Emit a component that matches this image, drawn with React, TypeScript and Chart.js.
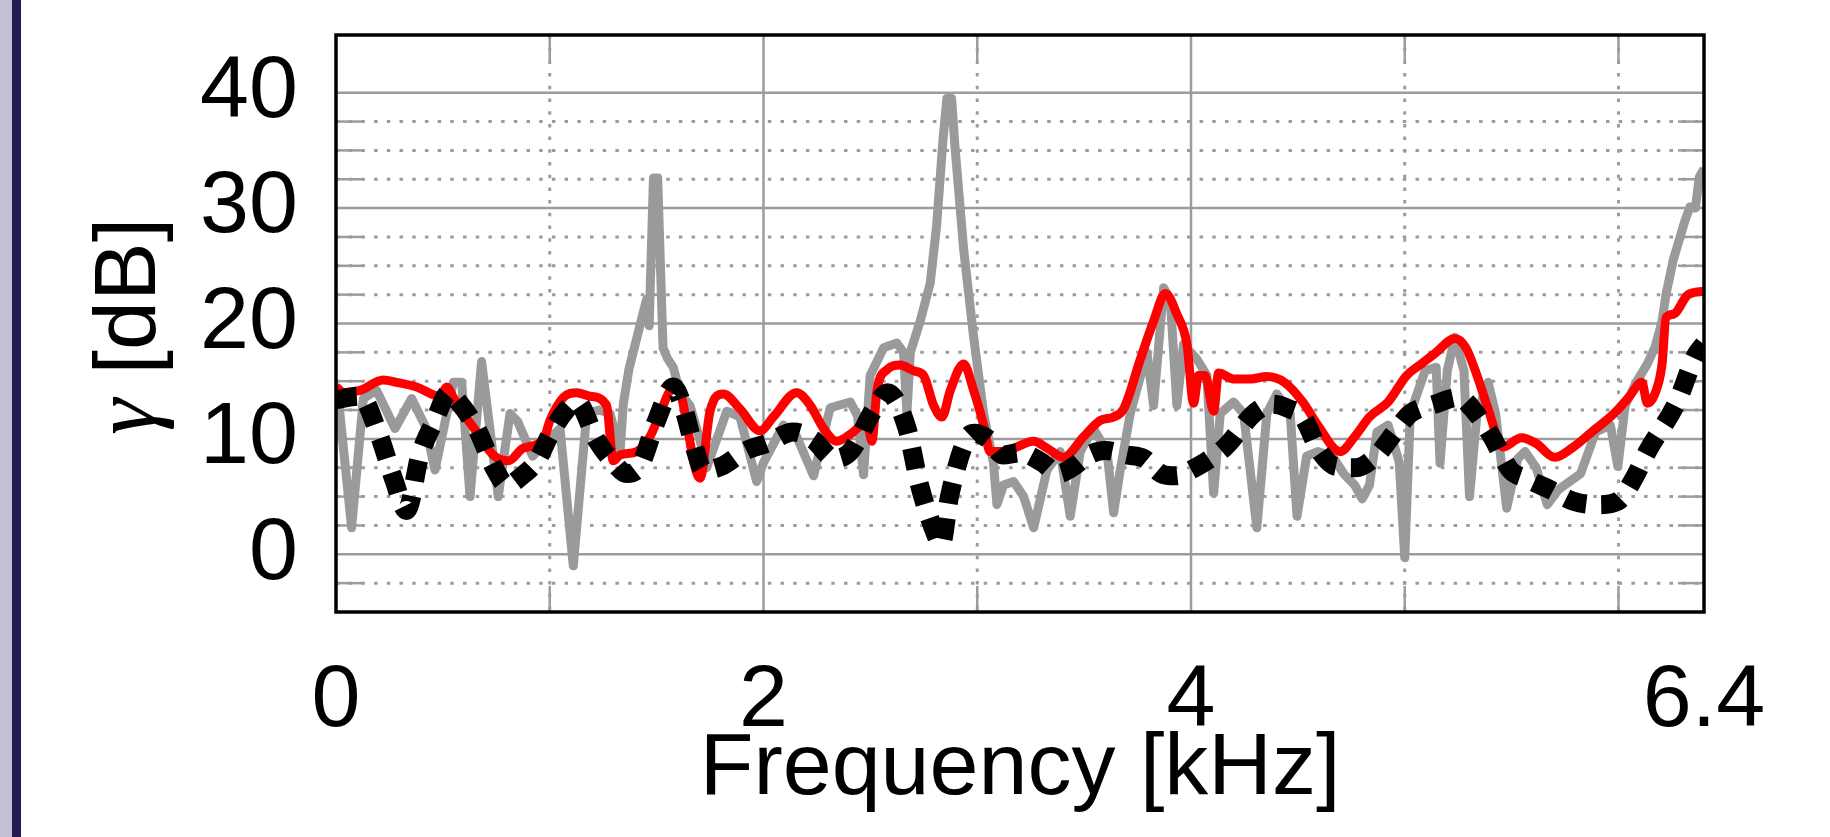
import React, { useEffect, useRef } from 'react';
import { Chart, registerables } from 'chart.js';

Chart.register(...registerables);

// ---- data (frequency in kHz, gamma in dB) ----
const grayFreq = [0.0, 0.011, 0.073, 0.128, 0.19, 0.276, 0.354, 0.42, 0.463, 0.549, 0.588, 0.627, 0.681, 0.759, 0.814, 0.85, 0.92, 0.97, 1.048, 1.11, 1.173, 1.23, 1.282, 1.329, 1.344, 1.37, 1.453, 1.465, 1.485, 1.505, 1.53, 1.55, 1.578, 1.609, 1.656, 1.703, 1.734, 1.828, 1.89, 1.968, 1.999, 2.093, 2.155, 2.234, 2.312, 2.406, 2.44, 2.468, 2.499, 2.562, 2.624, 2.655, 2.671, 2.687, 2.733, 2.78, 2.81, 2.84, 2.858, 2.88, 2.895, 2.936, 2.983, 3.03, 3.076, 3.092, 3.123, 3.17, 3.217, 3.264, 3.326, 3.388, 3.435, 3.482, 3.544, 3.607, 3.638, 3.669, 3.716, 3.794, 3.825, 3.872, 3.903, 3.934, 3.965, 4.028, 4.074, 4.106, 4.137, 4.199, 4.246, 4.308, 4.355, 4.402, 4.464, 4.496, 4.541, 4.593, 4.662, 4.714, 4.766, 4.801, 4.835, 4.87, 4.922, 4.974, 5.0, 5.026, 5.095, 5.147, 5.165, 5.199, 5.234, 5.277, 5.303, 5.338, 5.39, 5.425, 5.477, 5.529, 5.563, 5.615, 5.667, 5.719, 5.771, 5.823, 5.893, 5.962, 5.997, 6.031, 6.083, 6.135, 6.17, 6.204, 6.222, 6.256, 6.309, 6.334, 6.36, 6.378, 6.4];
const grayGamma = [13.3, 13.5, 2.3, 13.5, 14.2, 10.9, 13.5, 11.0, 7.3, 14.9, 14.9, 5.0, 16.7, 5.0, 12.2, 11.5, 8.5, 9.5, 10.9, -1.0, 12.2, 12.5, 12.2, 8.9, 13.0, 16.0, 22.1, 19.8, 32.6, 32.6, 17.9, 17.0, 16.2, 14.0, 12.9, 9.9, 7.5, 12.4, 11.9, 6.3, 7.9, 11.2, 10.2, 6.8, 12.7, 13.2, 12.0, 6.9, 15.5, 17.9, 18.3, 17.5, 12.2, 17.5, 20.2, 23.5, 28.5, 36.0, 39.5, 39.5, 35.5, 26.5, 18.8, 12.2, 7.9, 4.3, 6.0, 6.3, 5.0, 2.3, 7.3, 8.9, 3.3, 8.9, 10.9, 8.9, 3.6, 7.3, 12.2, 17.5, 12.9, 23.1, 22.1, 12.9, 18.2, 16.9, 15.5, 5.3, 12.2, 13.2, 12.2, 2.3, 12.2, 13.9, 12.2, 3.3, 8.5, 8.9, 8.5, 7.0, 6.0, 4.8, 6.0, 10.6, 11.2, 8.0, -0.3, 12.2, 15.9, 16.2, 7.9, 15.9, 18.8, 15.9, 5.0, 12.2, 14.9, 12.2, 4.0, 8.3, 8.9, 7.5, 4.3, 5.6, 6.3, 7.0, 10.6, 11.2, 7.6, 12.9, 14.9, 16.5, 17.9, 20.2, 22.5, 25.5, 28.8, 30.1, 30.0, 32.7, 33.4];

const redFreq = [0.0, 0.04, 0.112, 0.221, 0.284, 0.377, 0.487, 0.518, 0.549, 0.596, 0.658, 0.736, 0.806, 0.876, 0.97, 1.001, 1.064, 1.126, 1.188, 1.266, 1.297, 1.329, 1.407, 1.469, 1.516, 1.563, 1.594, 1.703, 1.75, 1.812, 1.89, 1.984, 2.046, 2.155, 2.219, 2.281, 2.343, 2.406, 2.468, 2.49, 2.507, 2.531, 2.578, 2.64, 2.702, 2.749, 2.796, 2.835, 2.874, 2.936, 2.983, 3.03, 3.06, 3.108, 3.17, 3.264, 3.326, 3.404, 3.498, 3.576, 3.638, 3.685, 3.763, 3.825, 3.88, 3.934, 3.981, 4.012, 4.035, 4.066, 4.106, 4.129, 4.199, 4.28, 4.355, 4.437, 4.523, 4.593, 4.697, 4.766, 4.835, 4.922, 5.009, 5.078, 5.147, 5.234, 5.286, 5.338, 5.39, 5.459, 5.546, 5.615, 5.702, 5.789, 5.875, 5.979, 6.048, 6.109, 6.135, 6.17, 6.204, 6.222, 6.256, 6.326, 6.4];
const redGamma = [14.5, 14.0, 14.2, 15.1, 14.9, 14.5, 13.7, 14.5, 13.6, 12.2, 10.6, 8.6, 8.1, 9.2, 9.9, 11.6, 13.6, 14.0, 13.7, 12.9, 8.1, 8.6, 8.9, 10.2, 12.2, 14.2, 14.5, 6.6, 12.4, 13.9, 12.6, 10.7, 11.9, 14.0, 12.9, 10.9, 9.8, 10.4, 11.2, 11.0, 9.8, 14.2, 16.0, 16.4, 15.9, 15.5, 12.9, 11.9, 14.2, 16.5, 14.2, 11.2, 8.9, 8.9, 9.2, 9.8, 9.2, 8.4, 10.2, 11.6, 11.9, 12.6, 16.9, 20.2, 22.6, 20.8, 18.2, 13.1, 15.5, 15.5, 12.4, 15.7, 15.2, 15.2, 15.4, 14.9, 13.2, 11.2, 8.9, 10.2, 11.9, 13.2, 15.5, 16.5, 17.5, 18.7, 17.9, 15.5, 12.6, 9.3, 10.1, 9.6, 8.4, 9.3, 10.6, 12.2, 13.6, 14.9, 13.1, 13.9, 16.5, 20.5, 20.8, 22.5, 22.8];

const blackFreq = [0.0, 0.112, 0.2, 0.27, 0.33, 0.393, 0.46, 0.53, 0.56, 0.658, 0.74, 0.8, 0.87, 0.94, 1.0, 1.064, 1.126, 1.219, 1.297, 1.36, 1.42, 1.5, 1.578, 1.62, 1.672, 1.72, 1.8, 1.92, 2.015, 2.14, 2.234, 2.33, 2.406, 2.515, 2.58, 2.67, 2.73, 2.81, 2.83, 2.87, 2.95, 2.99, 3.05, 3.12, 3.2, 3.3, 3.38, 3.45, 3.52, 3.6, 3.7, 3.78, 3.86, 3.93, 4.0, 4.16, 4.3, 4.38, 4.46, 4.523, 4.6, 4.679, 4.77, 4.87, 4.95, 5.026, 5.14, 5.251, 5.33, 5.407, 5.494, 5.563, 5.68, 5.789, 5.9, 5.997, 6.07, 6.135, 6.274, 6.36, 6.4];
const blackGamma = [13.4, 13.7, 10.4, 6.5, 3.8, 8.6, 11.5, 14.0, 13.5, 10.9, 7.5, 6.0, 6.8, 8.1, 10.3, 12.2, 13.2, 9.9, 8.0, 7.0, 7.6, 11.6, 14.5, 13.0, 9.6, 7.3, 7.6, 9.0, 9.6, 10.6, 9.9, 8.3, 8.9, 12.5, 14.0, 11.0, 6.0, 1.5, 0.8, 5.0, 10.0, 10.5, 10.0, 8.6, 8.8, 8.0, 7.0, 7.6, 8.6, 9.0, 8.6, 8.3, 7.0, 6.8, 7.3, 9.3, 12.3, 13.0, 12.6, 11.9, 9.0, 7.6, 7.5, 8.6, 10.5, 12.2, 13.0, 13.6, 12.3, 10.2, 7.3, 6.6, 5.6, 4.6, 4.3, 4.6, 6.5, 8.9, 13.2, 17.2, 18.2];

const xTickValues = [0, 2, 4, 6.4];
const yTickValues = [0, 10, 20, 30, 40];
const xMajorGrid = [2, 4];
const xMinorGrid = [1, 3, 5, 6];
const yMajorGrid = [0, 10, 20, 30, 40];
const yMinorGrid = [-2.5, 2.5, 5, 7.5, 12.5, 15, 17.5, 22.5, 25, 27.5, 32.5, 35, 37.5];
const yTitleSymbol = 'γ';
const yTitleUnit = ' [dB]';

const FONT = '"Liberation Sans", Arial, Helvetica, sans-serif';
const GRID = '#9c9c9c';

const toPoints = (xs: number[], ys: number[]) => xs.map((x, i) => ({ x, y: ys[i] }));

const gridPlugin = {
  id: 'customGrid',
  beforeDatasetsDraw(chart: any) {
    const { ctx, chartArea: a, scales } = chart;
    const xs = scales.x;
    const ys = scales.y;
    const hline = (v: number, x0: number, x1: number) => {
      const p = ys.getPixelForValue(v);
      ctx.beginPath(); ctx.moveTo(x0, p); ctx.lineTo(x1, p); ctx.stroke();
    };
    const vline = (v: number, y0: number, y1: number) => {
      const p = xs.getPixelForValue(v);
      ctx.beginPath(); ctx.moveTo(p, y0); ctx.lineTo(p, y1); ctx.stroke();
    };
    ctx.save();
    ctx.strokeStyle = GRID;
    ctx.lineWidth = 3;
    ctx.setLineDash([3.5, 9.2]);
    yMinorGrid.forEach((v) => hline(v, a.left, a.right));
    xMinorGrid.forEach((v) => vline(v, a.top, a.bottom));
    ctx.setLineDash([]);
    ctx.lineWidth = 2.5;
    yMajorGrid.forEach((v) => hline(v, a.left, a.right));
    xMajorGrid.forEach((v) => vline(v, a.top, a.bottom));
    const tm = 26;
    yMinorGrid.forEach((v) => { hline(v, a.left, a.left + tm); hline(v, a.right - tm, a.right); });
    xMinorGrid.forEach((v) => { vline(v, a.top, a.top + tm); vline(v, a.bottom - tm, a.bottom); });
    ctx.restore();
  },
  afterDatasetsDraw(chart: any) {
    const { ctx, chartArea: a } = chart;
    ctx.save();
    ctx.strokeStyle = '#000';
    ctx.lineWidth = 3.5;
    ctx.strokeRect(a.left, a.top, a.right - a.left, a.bottom - a.top);
    ctx.restore();
  },
  afterDraw(chart: any) {
    const { ctx, chartArea: a } = chart;
    const cy = (a.top + a.bottom) / 2 + 3;
    const baselineX = 155;
    ctx.save();
    ctx.translate(baselineX, cy);
    ctx.rotate(-Math.PI / 2);
    ctx.fillStyle = '#000';
    ctx.textBaseline = 'alphabetic';
    ctx.textAlign = 'left';
    const gFont = 'italic 92px "Liberation Serif", "DejaVu Serif", serif';
    const uFont = '88px ' + FONT;
    ctx.font = gFont;
    const gw = ctx.measureText(yTitleSymbol).width;
    ctx.font = uFont;
    const uw = ctx.measureText(yTitleUnit).width;
    const start = -(gw + uw) / 2;
    ctx.font = gFont;
    ctx.fillText(yTitleSymbol, start, 0);
    ctx.font = uFont;
    ctx.fillText(yTitleUnit, start + gw, 0);
    ctx.restore();
  },
};

export default function App() {
  const ref = useRef<HTMLCanvasElement | null>(null);

  useEffect(() => {
    if (!ref.current) return;
    const chart = new Chart(ref.current, {
      type: 'line',
      data: {
        datasets: [
          {
            label: 'black',
            data: toPoints(blackFreq, blackGamma),
            borderColor: '#000000',
            borderWidth: 19,
            borderDash: [21, 15],
            borderCapStyle: 'butt',
            pointRadius: 0,
            cubicInterpolationMode: 'monotone',
            fill: false,
            order: 0,
          },
          {
            label: 'red',
            data: toPoints(redFreq, redGamma),
            borderColor: '#ff0000',
            borderWidth: 9,
            pointRadius: 0,
            cubicInterpolationMode: 'monotone',
            borderJoinStyle: 'round',
            fill: false,
            order: 1,
          },
          {
            label: 'gray',
            data: toPoints(grayFreq, grayGamma),
            borderColor: '#9a9a9a',
            borderWidth: 9,
            pointRadius: 0,
            tension: 0,
            borderJoinStyle: 'round',
            fill: false,
            order: 2,
          },
        ],
      } as any,
      options: {
        animation: false,
        responsive: false,
        maintainAspectRatio: false,
        events: [],
        layout: { padding: { top: 35, right: 126, left: 0, bottom: 0 } },
        plugins: {
          legend: { display: false },
          tooltip: { enabled: false },
          title: { display: false },
        },
        scales: {
          x: {
            type: 'linear',
            min: 0,
            max: 6.4,
            afterBuildTicks: (s: any) => { s.ticks = xTickValues.map((v) => ({ value: v })); },
            afterFit: (s: any) => { s.height = 225; s.paddingLeft = 0; s.paddingRight = 0; },
            grid: { display: false, drawTicks: false },
            border: { display: false },
            ticks: {
              font: { family: FONT, size: 88 },
              color: '#000',
              padding: 37,
              maxRotation: 0,
              autoSkip: false,
              callback: (v: any) => String(v),
            },
            title: {
              display: true,
              text: 'Frequency [kHz]',
              font: { family: FONT, size: 88 },
              color: '#000',
              padding: { top: 0, bottom: 14 },
            },
          },
          y: {
            type: 'linear',
            min: -5,
            max: 45,
            afterBuildTicks: (s: any) => { s.ticks = yTickValues.map((v) => ({ value: v })); },
            afterFit: (s: any) => { s.width = 336; s.paddingTop = 0; s.paddingBottom = 0; },
            grid: { display: false, drawTicks: false },
            border: { display: false },
            ticks: {
              font: { family: FONT, size: 88 },
              color: '#000',
              padding: 38,
              autoSkip: false,
              callback: (v: any) => String(v),
            },
            title: { display: false },
          },
        },
      } as any,
      plugins: [gridPlugin],
    });
    return () => chart.destroy();
  }, []);

  return (
    <div style={{ position: 'fixed', left: 0, top: 0, width: 1830, height: 837, background: '#fff', overflow: 'hidden' }}>
      <canvas ref={ref} width={1830} height={837} style={{ display: 'block', width: 1830, height: 837 }} />
      <div style={{ position: 'absolute', left: 0, top: 0, width: 12, height: 837, background: '#c2c1d1' }} />
      <div style={{ position: 'absolute', left: 12, top: 0, width: 9, height: 837, background: '#221c52' }} />
    </div>
  );
}
